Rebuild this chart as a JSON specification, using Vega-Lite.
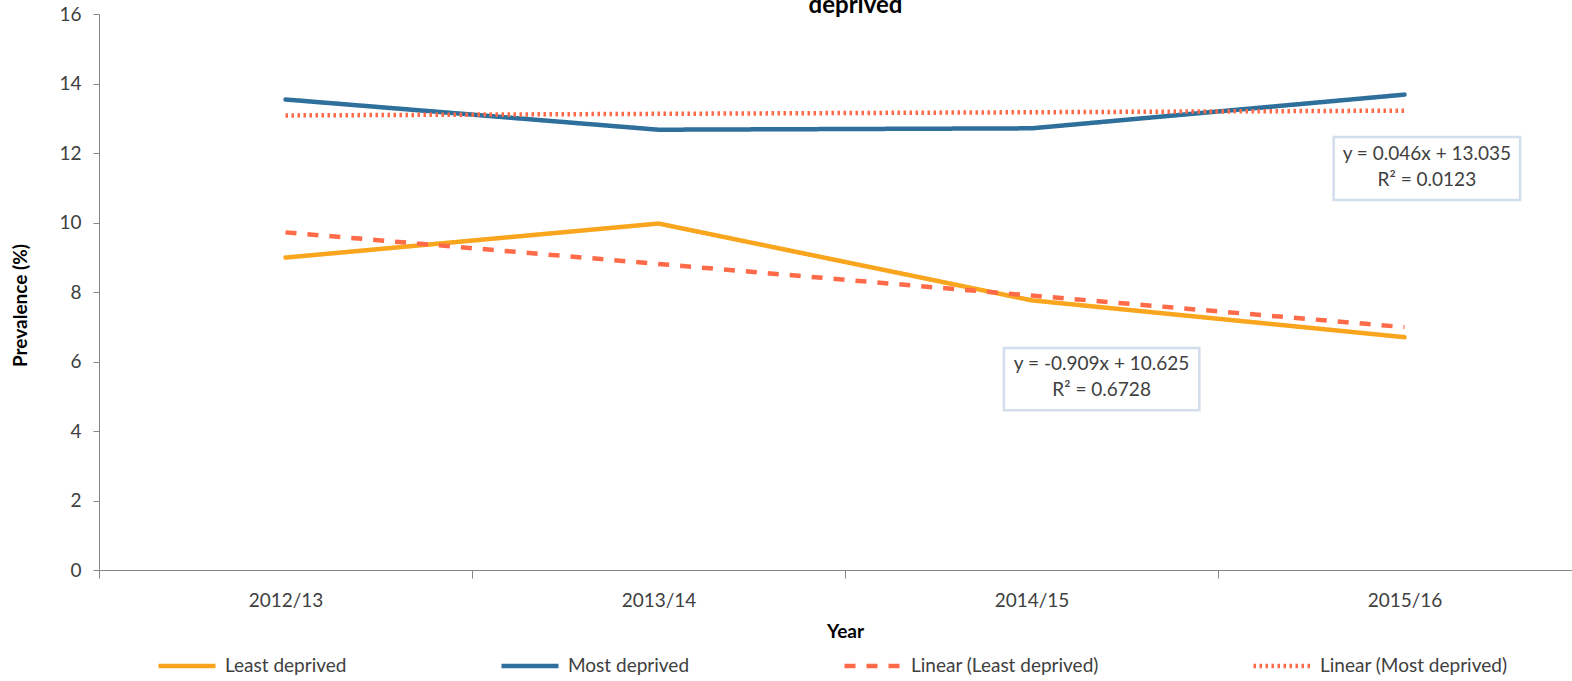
{
  "$schema": "https://vega.github.io/schema/vega-lite/v6.json",
  "width": 1473,
  "height": 556,
  "autosize": {"type": "none"},
  "padding": {"left": 99, "top": 14, "right": 0, "bottom": 111},
  "background": "white",
  "title": {
    "text": "deprived",
    "font": "Lato",
    "fontSize": 24,
    "fontWeight": "bold",
    "color": "#000000",
    "anchor": "middle",
    "dx": 20,
    "offset": -13
  },
  "config": {
    "view": {"stroke": null},
    "font": "Lato",
    "axis": {
      "labelFont": "Lato",
      "labelFontSize": 19,
      "labelColor": "#404040",
      "titleFont": "Lato",
      "titleFontSize": 19,
      "titleFontWeight": "bold",
      "titleColor": "#000000",
      "domainColor": "#868686",
      "tickColor": "#868686",
      "grid": false
    }
  },
  "datasets": {
    "observed": [
      {"year": "2012/13", "series": "Least deprived", "prevalence": 8.99},
      {"year": "2013/14", "series": "Least deprived", "prevalence": 9.97},
      {"year": "2014/15", "series": "Least deprived", "prevalence": 7.76},
      {"year": "2015/16", "series": "Least deprived", "prevalence": 6.7},
      {"year": "2012/13", "series": "Most deprived", "prevalence": 13.54},
      {"year": "2013/14", "series": "Most deprived", "prevalence": 12.67},
      {"year": "2014/15", "series": "Most deprived", "prevalence": 12.71},
      {"year": "2015/16", "series": "Most deprived", "prevalence": 13.68}
    ],
    "trend": [
      {"year": "2012/13", "series": "Linear (Least deprived)", "prevalence": 9.716},
      {"year": "2013/14", "series": "Linear (Least deprived)", "prevalence": 8.807},
      {"year": "2014/15", "series": "Linear (Least deprived)", "prevalence": 7.898},
      {"year": "2015/16", "series": "Linear (Least deprived)", "prevalence": 6.989},
      {"year": "2012/13", "series": "Linear (Most deprived)", "prevalence": 13.081},
      {"year": "2013/14", "series": "Linear (Most deprived)", "prevalence": 13.127},
      {"year": "2014/15", "series": "Linear (Most deprived)", "prevalence": 13.173},
      {"year": "2015/16", "series": "Linear (Most deprived)", "prevalence": 13.219}
    ],
    "boxes": [
      {"x0": 3.81, "x1": 4.31, "top": 12.46, "bottom": 10.65},
      {"x0": 2.926, "x1": 3.45, "top": 6.39, "bottom": 4.6}
    ],
    "equations": [
      {"pos": 4.06, "prevalence": 11.98, "label": "y = 0.046x + 13.035"},
      {"pos": 4.06, "prevalence": 11.23, "label": "R² = 0.0123"},
      {"pos": 3.188, "prevalence": 5.93, "label": "y = -0.909x + 10.625"},
      {"pos": 3.188, "prevalence": 5.18, "label": "R² = 0.6728"}
    ]
  },
  "resolve": {"scale": {"x": "independent"}, "axis": {"x": "independent"}},
  "layer": [
    {
      "data": {"name": "observed"},
      "mark": {"type": "line", "strokeCap": "round", "strokeJoin": "round"},
      "encoding": {
        "x": {
          "field": "year",
          "type": "ordinal",
          "sort": null,
          "scale": {"type": "band", "range": [0, 1492], "paddingInner": 0, "paddingOuter": 0},
          "axis": {
            "title": "Year",
            "labelAngle": 0,
            "tickBand": "extent",
            "tickSize": 8,
            "labelPadding": 13,
            "titlePadding": 12
          }
        },
        "y": {
          "field": "prevalence",
          "type": "quantitative",
          "scale": {"domain": [0, 16], "nice": false, "zero": true},
          "axis": {
            "title": "Prevalence (%)",
            "values": [0, 2, 4, 6, 8, 10, 12, 14, 16],
            "tickSize": 6,
            "labelPadding": 12,
            "titlePadding": 28,
            "titleY": 291
          }
        },
        "color": {
          "field": "series",
          "type": "nominal",
          "scale": {
            "domain": ["Least deprived", "Most deprived", "Linear (Least deprived)", "Linear (Most deprived)"],
            "range": ["#F9A61E", "#2E6F9C", "#FF6A48", "#FF6A48"]
          },
          "legend": {
            "title": null,
            "orient": "none",
            "direction": "horizontal",
            "columns": 4,
            "legendX": 57,
            "legendY": 621,
            "symbolType": "stroke",
            "symbolSize": 3249,
            "symbolStrokeWidth": 4,
            "labelOffset": 7,
            "labelLimit": 400,
            "labelFont": "Lato",
            "labelFontSize": 19,
            "labelColor": "#404040",
            "columnPadding": 145
          }
        },
        "strokeDash": {
          "field": "series",
          "type": "nominal",
          "scale": {
            "domain": ["Least deprived", "Most deprived", "Linear (Least deprived)", "Linear (Most deprived)"],
            "range": [[1, 0], [1, 0], [11, 11], [2.5, 3.5]]
          }
        },
        "strokeWidth": {
          "field": "series",
          "type": "nominal",
          "scale": {
            "domain": ["Least deprived", "Most deprived", "Linear (Least deprived)", "Linear (Most deprived)"],
            "range": [4.5, 4.5, 3, 2.5]
          }
        }
      }
    },
    {
      "data": {"name": "trend"},
      "mark": {"type": "line", "strokeCap": "butt"},
      "encoding": {
        "x": {
          "field": "year",
          "type": "ordinal",
          "sort": null,
          "scale": {"type": "band", "range": [0, 1492], "paddingInner": 0, "paddingOuter": 0},
          "axis": null
        },
        "y": {"field": "prevalence", "type": "quantitative"},
        "color": {"field": "series", "type": "nominal"},
        "strokeDash": {"field": "series", "type": "nominal"},
        "strokeWidth": {"field": "series", "type": "nominal"}
      }
    },
    {
      "data": {"name": "boxes"},
      "mark": {"type": "rect", "fill": "white", "stroke": "#D3DEEC", "strokeWidth": 2.5},
      "encoding": {
        "x": {
          "field": "x0",
          "type": "quantitative",
          "scale": {"domain": [0.5, 4.5], "range": [0, 1492], "nice": false, "zero": false},
          "axis": null
        },
        "x2": {"field": "x1"},
        "y": {"field": "top", "type": "quantitative"},
        "y2": {"field": "bottom"}
      }
    },
    {
      "data": {"name": "equations"},
      "mark": {"type": "text", "font": "Lato", "fontSize": 19, "color": "#404040", "align": "center", "baseline": "middle"},
      "encoding": {
        "x": {
          "field": "pos",
          "type": "quantitative",
          "scale": {"domain": [0.5, 4.5], "range": [0, 1492], "nice": false, "zero": false},
          "axis": null
        },
        "y": {"field": "prevalence", "type": "quantitative"},
        "text": {"field": "label"}
      }
    }
  ]
}
